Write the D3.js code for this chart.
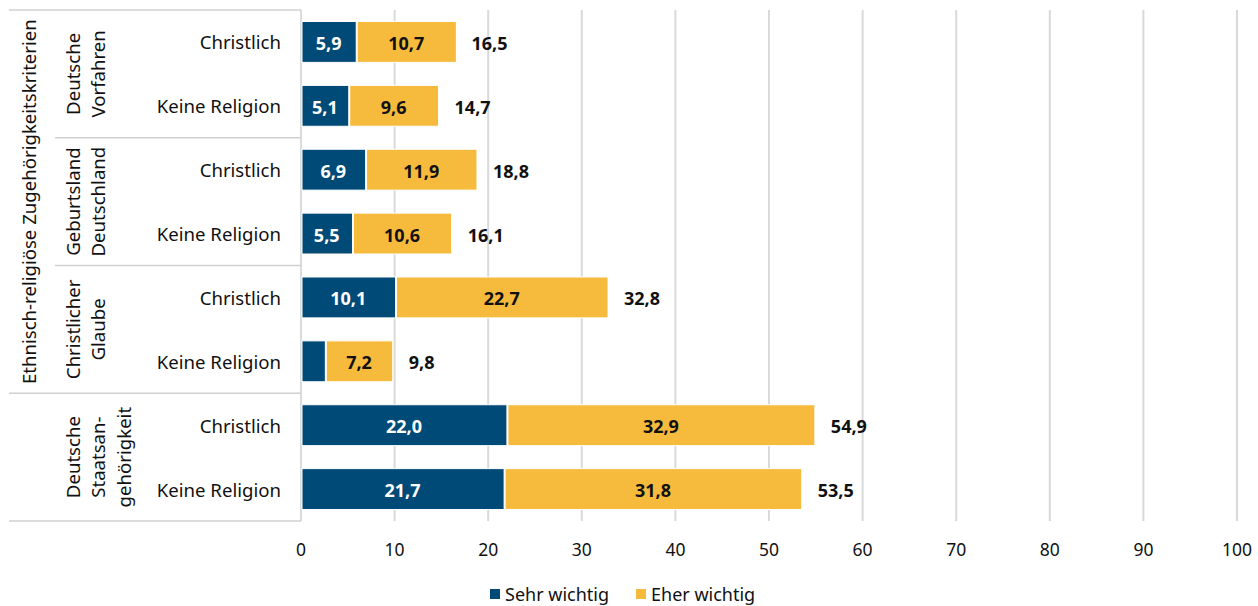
<!DOCTYPE html>
<html><head><meta charset="utf-8">
<script src="https://cdn.jsdelivr.net/npm/d3@7"></script>
<style>body{margin:0;background:#fff}svg{display:block}text{font-family:"Noto Sans",sans-serif}</style>
</head><body><svg id="c" width="1258" height="606"></svg>
<script>
const rowLabels = ["Christlich","Keine Religion","Christlich","Keine Religion","Christlich","Keine Religion","Christlich","Keine Religion"];
const groupLabels = [["Deutsche","Vorfahren"],["Geburtsland","Deutschland"],["Christlicher","Glaube"],["Deutsche","Staatsan-","gehörigkeit"]];
const outerLabel = "Ethnisch-religiöse Zugehörigkeitskriterien";
const sehrWichtig = [5.9,5.1,6.9,5.5,10.1,2.6,22.0,21.7];
const eherWichtig = [10.7,9.6,11.9,10.6,22.7,7.2,32.9,31.8];
const totals = [16.5,14.7,18.8,16.1,32.8,9.8,54.9,53.5];
const showSehrLabel = [true,true,true,true,true,false,true,true];
const xTicks = [0,10,20,30,40,50,60,70,80,90,100];
const seriesNames = ["Sehr wichtig","Eher wichtig"];
const colors = ["#004a77","#f6bb3c"];

const fmt = v => v.toFixed(1).replace(".", ",");
const svg = d3.select("#c");
const x = d3.scaleLinear().domain([0,100]).range([301,1237]);
const y = d3.scaleBand().domain(d3.range(8)).range([10,521]).paddingInner(0.36).paddingOuter(0.18);
const step = y.step();
const rowTop = i => 10 + i*step;
const grid = "#d9d9d9";

svg.append("g").selectAll("line").data(xTicks.slice(1)).join("line")
  .attr("x1",d=>x(d)).attr("x2",d=>x(d)).attr("y1",10).attr("y2",521)
  .attr("stroke",grid).attr("stroke-width",2);
svg.append("line").attr("x1",x(0)).attr("x2",x(0)).attr("y1",10).attr("y2",521).attr("stroke","#cfcfcf").attr("stroke-width",1.5);

const hl = [[10,9],[rowTop(2),55],[rowTop(4),55],[rowTop(6),9],[521,9]];
svg.append("g").selectAll("line").data(hl).join("line")
  .attr("x1",d=>d[1]).attr("x2",x(0)).attr("y1",d=>d[0]).attr("y2",d=>d[0])
  .attr("stroke","#d0d0d0").attr("stroke-width",1.5);

const bars = svg.append("g");
bars.selectAll("rect.s").data(sehrWichtig).join("rect")
  .attr("x",x(0)+1).attr("y",(d,i)=>y(i)).attr("height",y.bandwidth())
  .attr("width",d=>x(d)-x(0)-1).attr("fill",colors[0]).attr("stroke","#fff").attr("stroke-width",1);
bars.selectAll("rect.e").data(eherWichtig).join("rect")
  .attr("x",(d,i)=>x(sehrWichtig[i])+1).attr("y",(d,i)=>y(i)).attr("height",y.bandwidth())
  .attr("width",d=>x(d)-x(0)-1).attr("fill",colors[1]).attr("stroke","#fff").attr("stroke-width",1);

const lbl = svg.append("g").attr("font-weight","bold").attr("font-size",18).attr("dominant-baseline","central");
lbl.selectAll("text.s").data(sehrWichtig).join("text")
  .attr("x",(d,i)=>(x(0)+x(d))/2).attr("y",(d,i)=>y(i)+y.bandwidth()/2+1)
  .attr("text-anchor","middle").attr("fill","#fff")
  .text((d,i)=>showSehrLabel[i]?fmt(d):"");
lbl.selectAll("text.e").data(eherWichtig).join("text")
  .attr("x",(d,i)=>(x(sehrWichtig[i])+x(sehrWichtig[i]+d))/2).attr("y",(d,i)=>y(i)+y.bandwidth()/2+1)
  .attr("text-anchor","middle").attr("fill","#111")
  .text(d=>fmt(d));
lbl.selectAll("text.t").data(totals).join("text")
  .attr("x",d=>x(d)+16).attr("y",(d,i)=>y(i)+y.bandwidth()/2+1)
  .attr("text-anchor","start").attr("fill","#111")
  .text(d=>fmt(d));

svg.append("g").attr("font-size",18.6).attr("fill","#111").selectAll("text").data(rowLabels).join("text")
  .attr("x",281).attr("y",(d,i)=>y(i)+y.bandwidth()/2).attr("dominant-baseline","central")
  .attr("text-anchor","end").text(d=>d);

groupLabels.forEach((lines,g)=>{
  const cy = rowTop(2*g) + step;
  const t = svg.append("text").attr("font-size",18.6).attr("fill","#111")
    .attr("transform",`translate(72,${cy}) rotate(-90)`).attr("text-anchor","middle");
  lines.forEach((l,k)=>t.append("tspan").attr("x",0).attr("y",k*25.7).attr("dominant-baseline","central").text(l));
});
svg.append("text").attr("font-size",18.6).attr("fill","#111")
  .attr("transform",`translate(28,${(10+rowTop(6))/2}) rotate(-90)`).attr("text-anchor","middle")
  .attr("dominant-baseline","central").text(outerLabel);

svg.append("g").attr("font-size",17.5).attr("fill","#111").selectAll("text").data(xTicks).join("text")
  .attr("x",d=>x(d)).attr("y",549).attr("dominant-baseline","central").attr("text-anchor","middle").text(d=>d);

const leg = svg.append("g").attr("font-size",18).attr("fill","#111");
const legX = [490,636];
seriesNames.forEach((n,i)=>{
  leg.append("rect").attr("x",legX[i]).attr("y",589).attr("width",10).attr("height",10).attr("fill",colors[i]);
  leg.append("text").attr("x",legX[i]+15).attr("y",594).attr("dominant-baseline","central").text(n);
});
</script></body></html>
